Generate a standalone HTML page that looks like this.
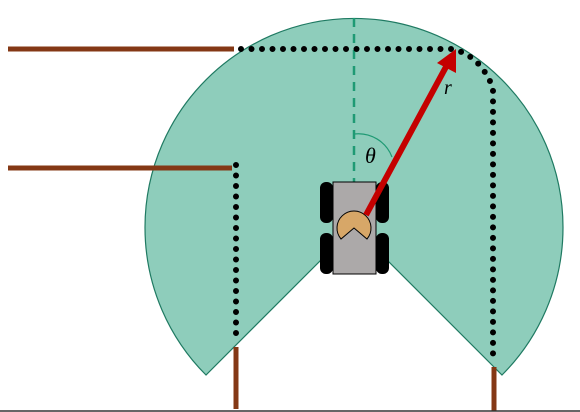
<!DOCTYPE html>
<html><head><style>html,body{margin:0;padding:0;background:#fff}svg{display:block}</style></head>
<body>
<svg width="580" height="412" viewBox="0 0 580 412">
<path d="M354,227 L206,375 A209,209 0 1 1 502,375 Z" fill="#8ecdbb" stroke="#1f7a62" stroke-width="1.2"/>
<line x1="354" y1="18" x2="354" y2="228" stroke="#1f9a74" stroke-width="2.5" stroke-dasharray="9,7"/>
<g stroke="#843815" stroke-width="5">
<line x1="8" y1="49" x2="234" y2="49"/>
<line x1="8" y1="168" x2="232" y2="168"/>
<line x1="236" y1="347" x2="236" y2="409"/>
<line x1="494" y1="367" x2="494" y2="411"/>
</g>
<g fill="none" stroke="#000" stroke-width="6" stroke-linecap="round" stroke-dasharray="0,10.5">
<path d="M241,49 L452,49 Q480,55 493,88 L493,356"/>
<path d="M236,165 L236,342"/>
</g>
<path d="M354,134 A36,36 0 0 1 392,157" fill="none" stroke="#1f9a74" stroke-width="1.2"/>
<text x="365" y="163" font-family="Liberation Serif, serif" font-style="italic" font-size="22">θ</text>
<g>
<rect x="320" y="182" width="13" height="41" rx="6" fill="#000"/>
<rect x="320" y="233" width="13" height="41" rx="6" fill="#000"/>
<rect x="376" y="182" width="13" height="41" rx="6" fill="#000"/>
<rect x="376" y="233" width="13" height="41" rx="6" fill="#000"/>
<rect x="333" y="182" width="43" height="92" fill="#aca9a9" stroke="#000" stroke-width="1"/>
<path d="M354,228 L341,239 A17,17 0 1 1 367,239 Z" fill="#d7a768" stroke="#000" stroke-width="1"/>
</g>
<line x1="366" y1="215" x2="447" y2="65" stroke="#c40000" stroke-width="6"/>
<polygon points="456,49 456,73 437,63" fill="#c40000"/>
<text x="444" y="94" font-family="Liberation Serif, serif" font-style="italic" font-size="20">r</text>
<line x1="0" y1="411" x2="580" y2="411" stroke="#333" stroke-width="1.5"/>
</svg>
</body></html>
